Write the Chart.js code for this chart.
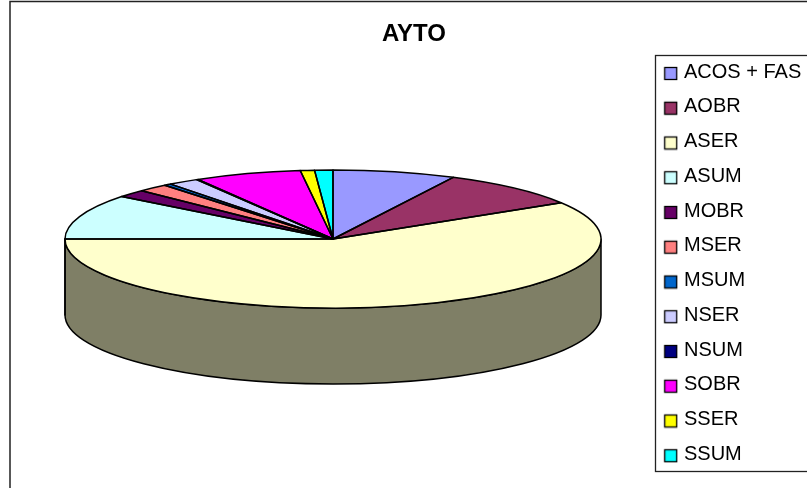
<!DOCTYPE html>
<html>
<head>
<meta charset="utf-8">
<title>AYTO</title>
<style>
  html, body { margin: 0; background: #fff; }
  canvas { display: block; }
</style>
<script src="https://cdn.jsdelivr.net/npm/chart.js@4/dist/chart.umd.min.js"></script>
</head>
<body>
<canvas id="grafico" width="807" height="488"></canvas>
<script>
const categorias = ["ACOS + FAS", "AOBR", "ASER", "ASUM", "MOBR", "MSER", "MSUM", "NSER", "NSUM", "SOBR", "SSER", "SSUM"];
const valores = [7.4, 8.8, 58.75, 10.55, 1.8, 1.85, 0.45, 1.85, 0.1, 6.45, 0.85, 1.1];
const cores = ["#9999FF", "#993366", "#FFFFCC", "#CCFFFF", "#660066", "#FF8080", "#0066CC", "#CCCCFF", "#000080", "#FF00FF", "#FFFF00", "#00FFFF"];

// where the tilted pie sits on the page
const pie = { cx: 333, cy: 239, rx: 268, ry: 69, depth: 76 };

function escurecer(hex) {
  const n = parseInt(hex.slice(1), 16);
  return `rgb(${(n >> 16) >> 1}, ${((n >> 8) & 255) >> 1}, ${(n & 255) >> 1})`;
}

function arcos(chart) {
  return chart.getDatasetMeta(0).data;
}

// legend square: sits a bit below the text centre, as in the old Excel look
function quadrado(cor) {
  const c = document.createElement("canvas");
  c.width = 15;
  c.height = 18;
  const g = c.getContext("2d");
  g.fillStyle = cor;
  g.strokeStyle = "#000";
  g.lineWidth = 1.3;
  g.fillRect(1.5, 4.5, 12, 12);
  g.strokeRect(1.5, 4.5, 12, 12);
  return c;
}

const pie3d = {
  id: "pie3d",
  afterLayout(chart) {
    // legend and title keep their library drawing, only moved
    const lg = chart.legend;
    const w = lg.width, h = lg.height;
    lg.left = 652.75; lg.right = lg.left + w;
    lg.top = 47.25; lg.bottom = lg.top + h;
    chart.titleBlock.left = 20;
    chart.titleBlock.right = 808;
  },
  beforeDraw(chart) {
    const ctx = chart.ctx;
    ctx.save();
    ctx.strokeStyle = "#222";
    ctx.lineWidth = 1.5;
    ctx.strokeRect(10, 1.5, 900, 600);
    ctx.fillStyle = "#fff";
    ctx.lineWidth = 1.3;
    ctx.fillRect(655.5, 55.5, 160, 416);
    ctx.strokeRect(655.5, 55.5, 160, 416);
    ctx.restore();
  },
  beforeDatasetsDraw(chart) {
    const ctx = chart.ctx;
    const { cx, cy, rx, ry, depth } = pie;
    ctx.save();
    ctx.strokeStyle = "#000";
    ctx.lineWidth = 1.5;
    ctx.lineJoin = "round";
    // side wall, only the part of each slice facing the viewer
    arcos(chart).forEach((arc, i) => {
      const ini = Math.max(arc.startAngle, 0);
      const fim = Math.min(arc.endAngle, Math.PI);
      if (fim <= ini) return;
      ctx.beginPath();
      ctx.ellipse(cx, cy, rx, ry, 0, ini, fim);
      ctx.ellipse(cx, cy + depth, rx, ry, 0, fim, ini, true);
      ctx.closePath();
      ctx.fillStyle = escurecer(cores[i]);
      ctx.fill();
      ctx.stroke();
    });
    ctx.restore();

    // squash the library's round pie onto the ellipse
    const a = arcos(chart)[0];
    ctx.save();
    ctx.translate(cx, cy);
    ctx.scale(rx / a.outerRadius, ry / a.outerRadius);
    ctx.translate(-a.x, -a.y);
  },
  afterDatasetsDraw(chart) {
    const ctx = chart.ctx;
    const { cx, cy, rx, ry } = pie;
    ctx.restore();
    ctx.save();
    ctx.strokeStyle = "#000";
    ctx.lineWidth = 1.5;
    ctx.lineJoin = "round";
    arcos(chart).forEach(arc => {
      ctx.beginPath();
      ctx.moveTo(cx, cy);
      ctx.ellipse(cx, cy, rx, ry, 0, arc.startAngle, arc.endAngle);
      ctx.closePath();
      ctx.stroke();
    });
    ctx.restore();
  }
};

Chart.defaults.font.family = "'Liberation Sans', Arial, sans-serif";
Chart.defaults.color = "#000";

new Chart(document.getElementById("grafico"), {
  type: "pie",
  plugins: [pie3d],
  data: {
    labels: categorias,
    datasets: [{
      data: valores,
      backgroundColor: cores,
      borderWidth: 0,
      clip: false
    }]
  },
  options: {
    responsive: false,
    animation: false,
    plugins: {
      tooltip: { enabled: false },
      title: {
        display: true,
        text: "AYTO",
        color: "#000",
        font: { size: 24, weight: "bold" },
        padding: { top: 20, bottom: 10 }
      },
      legend: {
        position: "right",
        align: "start",
        labels: {
          usePointStyle: true,
          pointStyleWidth: 6.5,
          boxHeight: 12,
          padding: 14.75,
          color: "#000",
          font: { size: 20 },
          generateLabels(chart) {
            const itens = Chart.PieController.overrides.plugins.legend.labels.generateLabels(chart);
            itens.forEach((it, i) => { it.pointStyle = quadrado(cores[i]); });
            return itens;
          }
        }
      }
    }
  }
});
</script>
</body>
</html>
